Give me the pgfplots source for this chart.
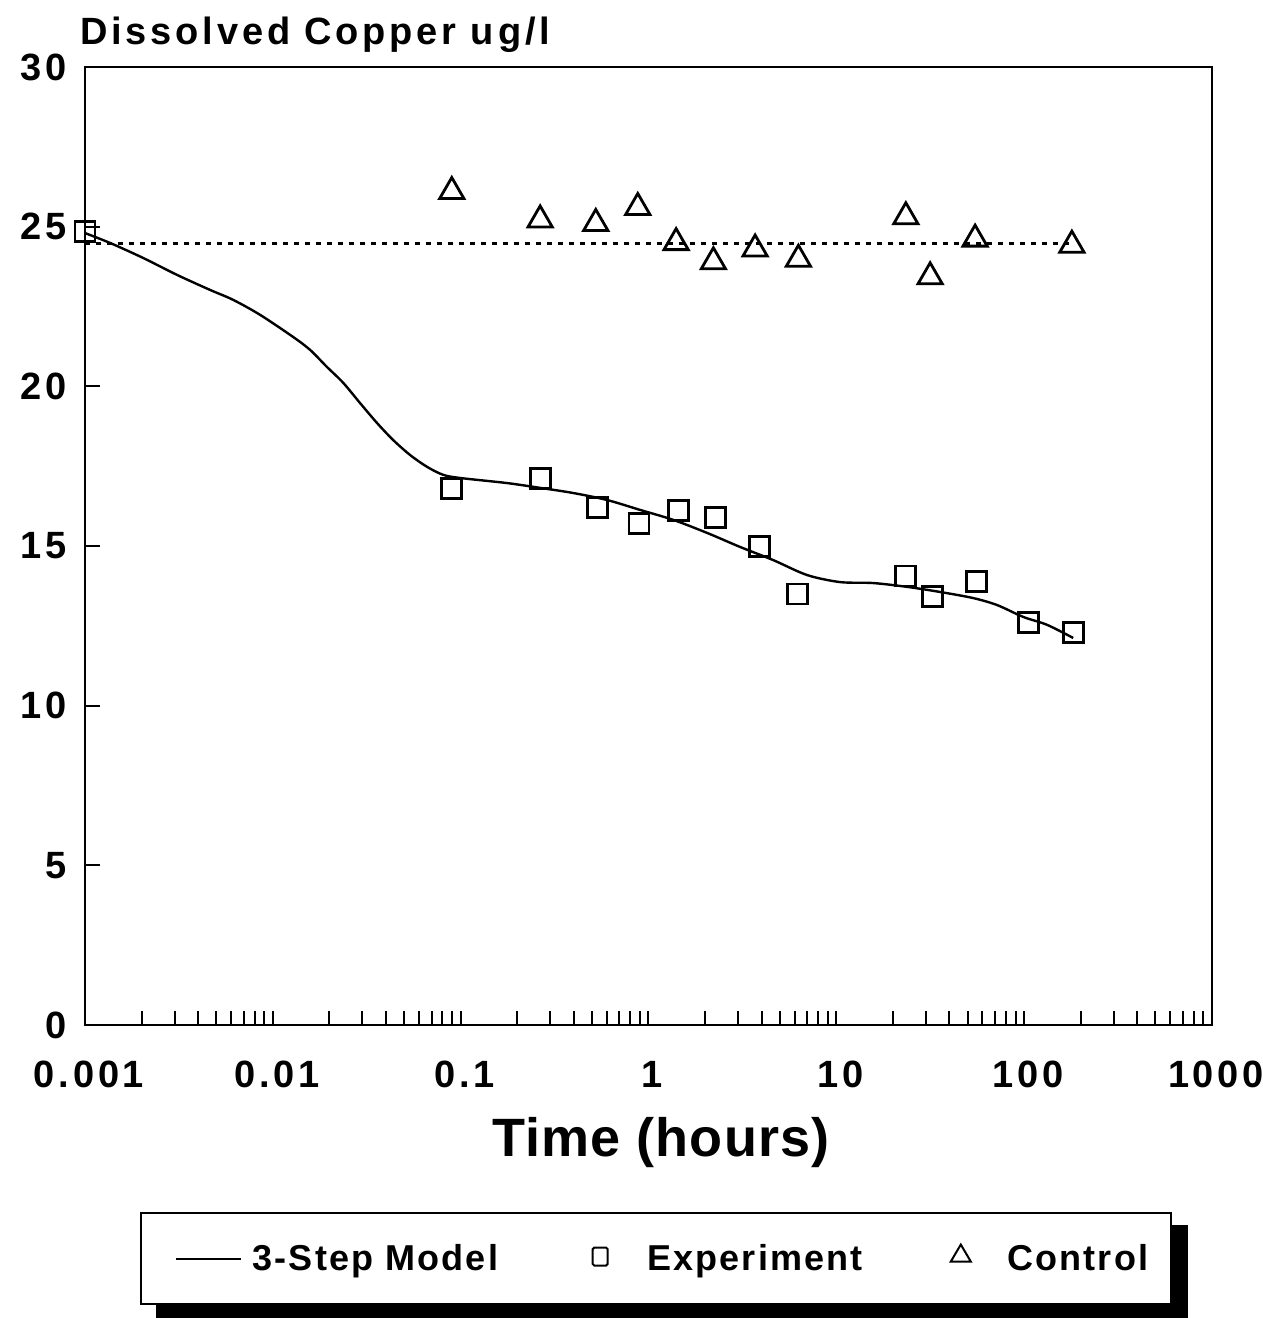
\documentclass[border=0pt]{standalone}
\usepackage{fontspec}
\setmainfont{Liberation Sans}
\newfontfamily\spaced{Liberation Sans}[LetterSpace=10]
\newfontfamily\legfont{Liberation Sans}[LetterSpace=6]
\newfontfamily\labfont{Liberation Sans}[LetterSpace=2]
\usepackage{pgfplots}
\usepackage{pgfplotstable}
\pgfplotsset{compat=1.18}

\pgfplotstableread{
x y
0.001 24.80
0.00136 24.49
0.00204 24.02
0.00309 23.49
0.00463 23.02
0.00614 22.71
0.00855 22.24
0.0128 21.55
0.0158 21.14
0.0194 20.61
0.0237 20.11
0.0291 19.48
0.0359 18.85
0.0437 18.32
0.0538 17.85
0.0662 17.48
0.0806 17.23
0.0993 17.13
0.177 16.97
0.265 16.82
0.397 16.66
0.602 16.44
0.902 16.13
1.352 15.82
2.051 15.41
3.074 14.97
4.608 14.56
6.99 14.09
10.47 13.87
15.70 13.84
23.83 13.72
35.70 13.56
53.50 13.37
71.83 13.15
98.78 12.78
132.6 12.53
182.4 12.12
}\model

\pgfplotstableread{
x y
0.001 24.85
0.0897 16.81
0.267 17.12
0.534 16.20
0.891 15.71
1.438 16.11
2.271 15.89
3.881 14.98
6.184 13.50
23.45 14.06
32.49 13.41
55.99 13.88
105.4 12.61
183.0 12.30
}\expt

\pgfplotstableread{
x y
0.0897 26.10
0.265 25.21
0.524 25.10
0.877 25.60
1.403 24.50
2.216 23.90
3.695 24.30
6.283 23.98
23.45 25.31
31.59 23.43
54.8 24.61
179.5 24.42
}\control

\begin{document}
\begin{tikzpicture}[x=1pt,y=1pt]
\path[use as bounding box] (-42.5,-146.5) rectangle (589,512.5);
\begin{axis}[
  at={(0,0)}, anchor=south west,
  scale only axis, width=563.5pt, height=479pt,
  clip=false,
  xmode=log, xmin=1e-3, xmax=1e3, ymin=0, ymax=30,
  xtick={1e-3,1e-2,1e-1,1,10,100,1000},
  xticklabels={0.001,0.01,0.1,1,10,100,1000},
  ytick={0,5,...,30},
  axis line style={line width=1.3pt},
  tick align=inside, xtick pos=bottom, ytick pos=left,
  major tick length=7.5pt, minor tick length=7pt,
  major x tick style={draw=none},
  tick style={line width=1pt, black},
  /pgf/number format/assume math mode=true,
  xticklabel style={font=\spaced\bfseries\fontsize{19}{22}\selectfont, anchor=base, yshift=-31pt, xshift=2pt},
  yticklabel style={font=\spaced\bfseries\fontsize{19}{22}\selectfont, anchor=east, inner sep=0pt, xshift=-9pt},
  xlabel={Time (hours)},
  xlabel style={font=\labfont\bfseries\fontsize{27}{30}\selectfont, at={(axis description cs:0.511,0)}, anchor=base, yshift=-65.5pt},
  legend columns=3,
  legend cell align=left,
  legend style={
    name=leg,
    at={(axis description cs:0.0488,-0.1952)}, anchor=north west,
    draw=black, line width=1pt, fill=white,
    font=\legfont\bfseries\fontsize{18}{21}\selectfont,
    inner xsep=9.5pt, inner ysep=13.5pt,
    /tikz/every odd column/.append style={column sep=3.3pt},
    /tikz/every even column/.append style={column sep=41pt},
  },
]
\addplot[black, line width=1.2pt, smooth,
  legend image code/.code={\path[draw=none] (-8pt,0pt) -- (32.5pt,0pt); \draw[black, line width=1pt] (0pt,0pt) -- (32.5pt,0pt);}]
  table {\model};
\addlegendentry{3-Step Model}

\addplot[only marks, black, mark=square, mark size=5pt, mark options={line width=1.4pt, solid},
  legend image code/.code={\path[draw=none] (-3.75pt,0pt) -- (22.5pt,0pt); \path[draw=none] (0pt,1pt) node[draw=black, line width=1pt, inner sep=0pt, minimum width=7.5pt, minimum height=9pt, rounded corners=0.8pt] {};}]
  table {\expt};
\addlegendentry{Experiment}

\addplot[only marks, black, mark=triangle, mark size=7pt, mark options={line width=1.4pt, solid},
  legend image code/.code={\path[draw=none] (-6pt,0pt) -- (18pt,0pt); \draw[black, line width=1pt] (-5pt,-1.5pt) -- (5pt,-1.5pt) -- (0pt,7pt) -- cycle;}]
  table {\control};
\addlegendentry{Control}

\addplot[black, line width=1.1pt, dash pattern=on 2.5pt off 3pt, forget plot] coordinates {(0.001,24.47) (182,24.47)};

\node[anchor=base west, inner sep=0pt, font=\spaced\bfseries\fontsize{19}{22}\selectfont, xshift=-2.5pt, yshift=11pt] at (rel axis cs:0,1) {Dissolved Copper ug/l};
\end{axis}
\fill[black] ([yshift=-6.5pt]leg.north east) rectangle ([xshift=8pt,yshift=-6.5pt]leg.south east);
\fill[black] ([xshift=8pt]leg.south west) rectangle ([xshift=8pt,yshift=-6.5pt]leg.south east);
\end{tikzpicture}
\end{document}
